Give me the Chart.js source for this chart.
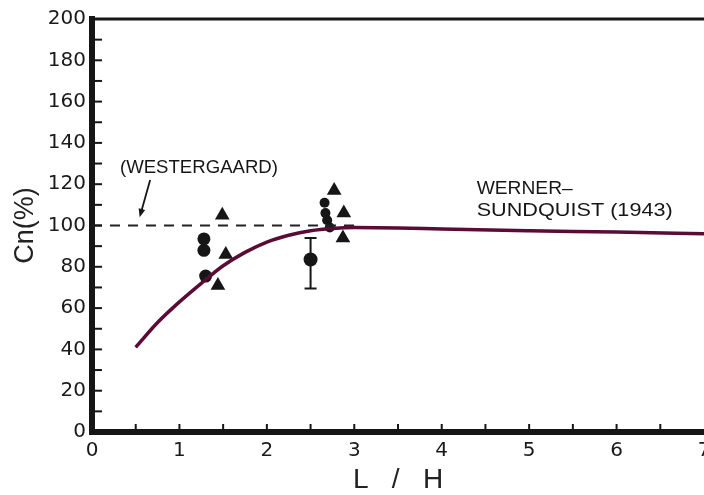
<!DOCTYPE html>
<html>
<head>
<meta charset="utf-8">
<script src="https://cdn.jsdelivr.net/npm/chart.js@4.4.1/dist/chart.umd.min.js"></script>
<style>
  html, body { margin: 0; padding: 0; background: #fff; overflow: hidden; }
  #wrap { width: 704px; height: 495px; position: relative; }
</style>
</head>
<body>
<div id="wrap"><canvas id="c" width="704" height="495"></canvas></div>
<script>
// Cn (%) against L/H: test points, Westergaard level and the Werner–Sundquist (1943) curve.

// Axis ranges and tick spacing
const xRange = [0, 7];
const yRange = [0, 200];
const xStep = 1;
const yStep = 20;

// Werner–Sundquist curve
const curveX = [0.5, 0.75, 1.0, 1.25, 1.5, 1.75, 2.0, 2.25, 2.5, 2.75, 3.0, 3.5, 4.0, 5.0, 6.0, 7.0];
const curveY = [41, 53, 63, 72, 80.5, 87, 92, 95.3, 97.5, 98.6, 99, 98.8, 98.3, 97.5, 96.8, 96];

// Westergaard level (dashed)
const westX = [0, 3];
const westY = [100, 100];

// Test results: filled circles
const circleX = [1.28, 1.28, 1.30];
const circleY = [93.5, 88, 75.5];

// Test results: filled circles near L/H = 2.7
const clusterX = [2.66, 2.67, 2.69, 2.72];
const clusterY = [111, 106, 102.5, 99];

// Test results: filled triangles
const triX = [1.49, 1.53, 1.44, 2.77, 2.88, 2.87];
const triY = [105, 86, 71, 117, 106, 94];

// Mean result with its scatter band
const meanX = [2.5];
const meanY = [83.5];
const errLow = [69.5];
const errHigh = [94];

const pts = (xs, ys) => xs.map((x, i) => ({ x: x, y: ys[i] }));

// Text notes placed in data units
const notes = [
  { text: '(WESTERGAARD)', x: 0.32, y: 127.8, width: 158 },
  { text: 'WERNER\u2013', x: 4.40, y: 117.8, width: 96 },
  { text: 'SUNDQUIST (1943)', x: 4.40, y: 107.2, width: 196 }
];
const arrowNote = { from: [0.665, 122], to: [0.545, 104] };

const ink = '#161616';

const decor = {
  id: 'decor',
  afterDatasetsDraw(chart) {
    const { ctx, chartArea: a, scales: { x, y } } = chart;
    ctx.save();
    ctx.strokeStyle = ink;
    ctx.fillStyle = ink;
    ctx.lineCap = 'butt';

    // top frame
    ctx.lineWidth = 3;
    ctx.beginPath();
    ctx.moveTo(a.left - 3, a.top);
    ctx.lineTo(a.right, a.top);
    ctx.stroke();

    // inner tick marks
    ctx.lineWidth = 2;
    for (let v = yRange[0] + 10; v < yRange[1]; v += 10) {
      const py = y.getPixelForValue(v);
      ctx.beginPath();
      ctx.moveTo(a.left + 2, py);
      ctx.lineTo(a.left + 10, py);
      ctx.stroke();
    }
    for (let v = xRange[0] + 0.5; v < xRange[1]; v += 0.5) {
      const px = x.getPixelForValue(v);
      ctx.beginPath();
      ctx.moveTo(px, a.bottom - 2);
      ctx.lineTo(px, a.bottom - 8);
      ctx.stroke();
    }

    // scatter band of the mean result
    ctx.lineWidth = 2;
    meanX.forEach((mx, i) => {
      const px = x.getPixelForValue(mx);
      const top = y.getPixelForValue(errHigh[i]);
      const bot = y.getPixelForValue(errLow[i]);
      ctx.beginPath();
      ctx.moveTo(px, top); ctx.lineTo(px, bot);
      ctx.moveTo(px - 6, top); ctx.lineTo(px + 6, top);
      ctx.moveTo(px - 6, bot); ctx.lineTo(px + 6, bot);
      ctx.stroke();
    });

    // arrow to the Westergaard level
    const ax0 = x.getPixelForValue(arrowNote.from[0]), ay0 = y.getPixelForValue(arrowNote.from[1]);
    const ax1 = x.getPixelForValue(arrowNote.to[0]), ay1 = y.getPixelForValue(arrowNote.to[1]);
    const ang = Math.atan2(ay1 - ay0, ax1 - ax0);
    ctx.lineWidth = 1.8;
    ctx.beginPath();
    ctx.moveTo(ax0, ay0);
    ctx.lineTo(ax1 - 6 * Math.cos(ang), ay1 - 6 * Math.sin(ang));
    ctx.stroke();
    ctx.beginPath();
    ctx.moveTo(ax1, ay1);
    ctx.lineTo(ax1 - 9 * Math.cos(ang - 0.38), ay1 - 9 * Math.sin(ang - 0.38));
    ctx.lineTo(ax1 - 9 * Math.cos(ang + 0.38), ay1 - 9 * Math.sin(ang + 0.38));
    ctx.closePath();
    ctx.fill();

    // labels
    ctx.font = '19px "Liberation Sans", Arial, sans-serif';
    ctx.textBaseline = 'middle';
    ctx.textAlign = 'left';
    notes.forEach(n => {
      const px = x.getPixelForValue(n.x), py = y.getPixelForValue(n.y);
      const w = ctx.measureText(n.text).width;
      ctx.save();
      ctx.translate(px, py);
      ctx.scale(n.width / w, 1);
      ctx.fillText(n.text, 0, 0);
      ctx.restore();
    });
    ctx.restore();
  }
};

new Chart(document.getElementById('c'), {
  type: 'scatter',
  data: {
    datasets: [
      {
        label: 'Werner\u2013Sundquist (1943)',
        type: 'line',
        data: pts(curveX, curveY),
        borderColor: '#5a0b36',
        borderWidth: 3.5,
        pointRadius: 0,
        cubicInterpolationMode: 'monotone',
        fill: false
      },
      {
        label: 'Westergaard',
        type: 'line',
        data: pts(westX, westY),
        borderColor: '#222',
        borderWidth: 1.8,
        borderDash: [10, 8],
        pointRadius: 0,
        fill: false
      },
      {
        label: 'Circles',
        data: pts(circleX, circleY),
        pointStyle: 'circle',
        pointRadius: 6.5,
        backgroundColor: ink,
        borderColor: ink,
        borderWidth: 0
      },
      {
        label: 'Circles (L/H 2.7)',
        data: pts(clusterX, clusterY),
        pointStyle: 'circle',
        pointRadius: 5,
        backgroundColor: ink,
        borderColor: ink,
        borderWidth: 0
      },
      {
        label: 'Triangles',
        data: pts(triX, triY),
        pointStyle: 'triangle',
        pointRadius: 8.5,
        backgroundColor: ink,
        borderColor: ink,
        borderWidth: 0
      },
      {
        label: 'Mean',
        data: pts(meanX, meanY),
        pointStyle: 'circle',
        pointRadius: 7,
        backgroundColor: ink,
        borderColor: ink,
        borderWidth: 0
      }
    ]
  },
  options: {
    responsive: false,
    animation: false,
    events: [],
    layout: { padding: { top: 19, right: 0, bottom: 0, left: 0 }, autoPadding: false },
    plugins: { legend: { display: false }, tooltip: { enabled: false } },
    scales: {
      x: {
        type: 'linear',
        min: xRange[0],
        max: xRange[1],
        afterFit(s) { s.height = 63; s.paddingLeft = 0; s.paddingRight = 0; },
        grid: { display: false, drawTicks: false },
        border: { display: true, width: 6, color: ink },
        ticks: {
          stepSize: xStep,
          color: '#1a1a1a',
          font: { family: 'DejaVu Sans', size: 20 },
          padding: 7,
          maxRotation: 0,
          autoSkip: false
        },
        title: {
          display: true,
          text: 'L   /   H',
          color: '#222',
          font: { family: 'Liberation Sans', size: 28, lineHeight: 1 },
          padding: { top: 0, bottom: 1 }
        }
      },
      y: {
        type: 'linear',
        min: yRange[0],
        max: yRange[1],
        afterFit(s) { s.width = 92; s.paddingTop = 0; s.paddingBottom = 0; },
        grid: { display: false, drawTicks: false },
        border: { display: true, width: 6, color: ink },
        ticks: {
          stepSize: yStep,
          color: '#1a1a1a',
          font: { family: 'DejaVu Sans', size: 20 },
          padding: 6
        },
        title: {
          display: true,
          text: 'Cn(%)',
          color: '#222',
          font: { family: 'Liberation Sans', size: 27, lineHeight: 1 },
          padding: { top: 12, bottom: 0 }
        }
      }
    }
  },
  plugins: [decor]
});
</script>
</body>
</html>
